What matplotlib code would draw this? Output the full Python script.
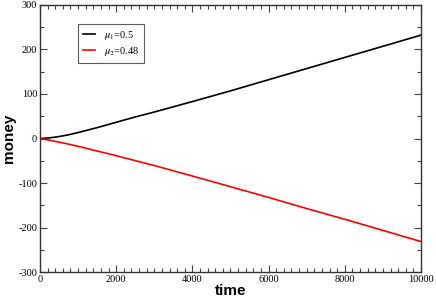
import numpy as np
import matplotlib
matplotlib.use("Agg")
import matplotlib.pyplot as plt
from matplotlib.ticker import MultipleLocator

plt.rcParams['mathtext.fontset'] = 'stix'
plt.rcParams['axes.unicode_minus'] = False

time = [0, 250, 500, 750, 1000, 1250, 1500, 1750, 2000, 2500, 3000, 4000, 5000, 6000, 7000, 8000, 9000, 10000]
money_1 = [0, 1.5, 4.5, 8.5, 13.5, 19, 24.5, 30.5, 36.5, 48.5, 59.5, 83, 107, 132, 157, 182, 207, 232]
money_2 = [0, -3.5, -8, -12.5, -17.5, -22.5, -28, -33, -38.5, -49.5, -60.5, -84, -108, -132, -157, -181, -206, -231]
labels = [r'$\mu_1$=0.5', r'$\mu_2$=0.48']

fig = plt.figure(figsize=(4.36, 3.01), dpi=100)
ax = fig.add_axes([0.0917, 0.0953, 0.8739, 0.8887])

ax.plot(time, money_1, color='black', lw=1.2, label=labels[0])
ax.plot(time, money_2, color='red', lw=1.2, label=labels[1])

ax.set_xlim(0, 10000)
ax.set_ylim(-300, 300)
ax.xaxis.set_major_locator(MultipleLocator(2000))
ax.xaxis.set_minor_locator(MultipleLocator(200))
ax.yaxis.set_major_locator(MultipleLocator(100))
ax.yaxis.set_minor_locator(MultipleLocator(50))
ax.tick_params(which='both', direction='in', top=True, right=True, color='#444444')
ax.tick_params(which='major', length=5, width=0.8, labelsize=7.5, pad=2)
ax.tick_params(which='minor', length=2.7, width=0.8)
for lab in ax.get_xticklabels() + ax.get_yticklabels():
    lab.set_family('Liberation Serif')
for s in ax.spines.values():
    s.set_linewidth(1.0)
    s.set_color('#333333')

ax.set_xlabel('time', fontsize=11, fontweight='bold', family='Liberation Sans', labelpad=0)
ax.set_ylabel('money', fontsize=11, fontweight='bold', family='Liberation Sans')
ax.yaxis.set_label_coords(-0.062, 0.5)

leg = ax.legend(loc='upper left', bbox_to_anchor=(0.1, 0.928), frameon=True, fancybox=False,
                edgecolor='#333333', handlelength=1.2, handletextpad=0.8, borderaxespad=0,
                prop={'family': 'Liberation Serif', 'size': 7.5}, borderpad=0.45, labelspacing=0.3)
leg.get_frame().set_linewidth(0.8)

fig.savefig('out.png', dpi=100)
